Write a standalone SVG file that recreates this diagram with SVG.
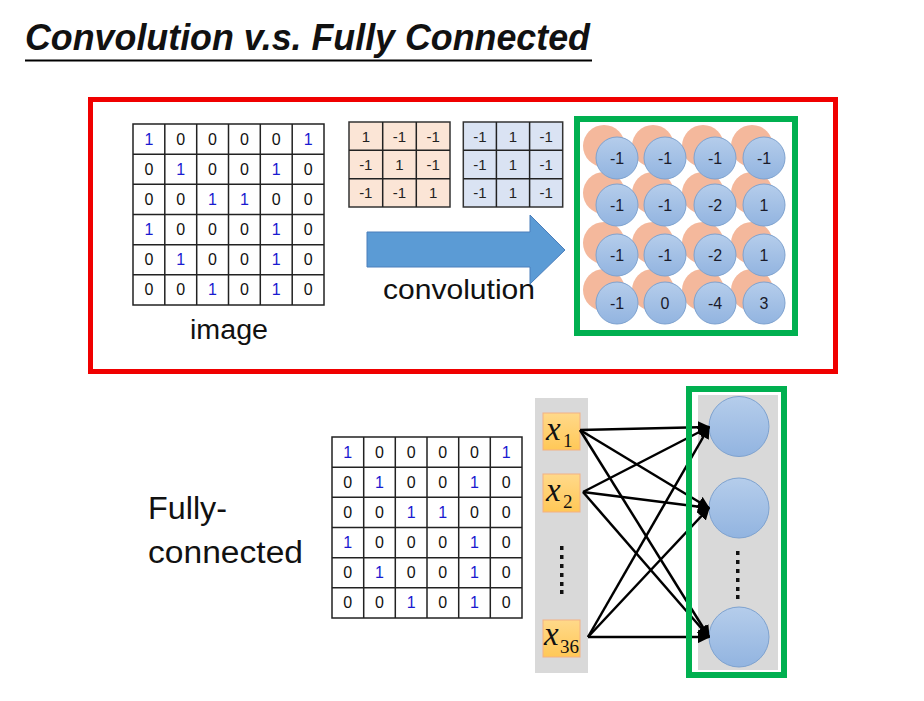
<svg xmlns="http://www.w3.org/2000/svg" width="924" height="701" viewBox="0 0 924 701">
<defs>
<style>
.t{font-family:"Liberation Sans",Arial,sans-serif;fill:#111}
.g{font-size:16px;text-anchor:middle}
.b{fill:#1a1ad0}
.f{font-size:15px;text-anchor:middle;fill:#222}
.c{font-size:16px;text-anchor:middle;fill:#1a1a2a}
.grid{fill:#fff;stroke:#222;stroke-width:1.5}
.gl{stroke:#222;stroke-width:1.5;fill:none}
.oc{fill:#F4B89C}
.bc{fill:url(#bg);stroke:#7EA2CF;stroke-width:1}
.xb{fill:url(#yg);stroke:#F4B183;stroke-width:1}
.xt{font-family:"Liberation Serif","Times New Roman",serif;font-style:italic;font-size:33px;fill:#111}
.xs{font-family:"Liberation Serif","Times New Roman",serif;font-size:19px;fill:#111}
.ln{stroke:#000;stroke-width:2.5;fill:none;marker-end:url(#ah)}
</style>
<linearGradient id="bg" x1="0" y1="0" x2="0" y2="1"><stop offset="0" stop-color="#B5CDEB"/><stop offset="1" stop-color="#92B4E0"/></linearGradient>
<linearGradient id="yg" x1="0" y1="0" x2="0" y2="1"><stop offset="0" stop-color="#FFD98A"/><stop offset="1" stop-color="#FFC857"/></linearGradient>
<marker id="ah" viewBox="0 0 10 10" refX="9" refY="5" markerWidth="5" markerHeight="5" orient="auto" markerUnits="strokeWidth"><path d="M0,0 L10,5 L0,10 z" fill="#000"/></marker>
</defs>
<rect width="924" height="701" fill="#fff"/>

<g id="title">
<text class="t" x="25" y="50" font-size="37" font-weight="bold" font-style="italic" textLength="565" lengthAdjust="spacingAndGlyphs">Convolution v.s. Fully Connected</text>
<line x1="25" y1="60.5" x2="592" y2="60.5" stroke="#000" stroke-width="2"/>
</g>

<g id="conv-frame"><rect x="90.5" y="99.5" width="745" height="272" fill="none" stroke="#F00000" stroke-width="5"/></g>

<g id="image-grid">
<rect class="grid" x="133" y="124" width="191" height="181"/>
<path class="gl" d="M164.8,124V305M196.7,124V305M228.5,124V305M260.3,124V305M292.2,124V305M133,154.2H324M133,184.3H324M133,214.5H324M133,244.7H324M133,274.8H324"/>
<g class="t g">
<text x="148.9" y="144.6" class="b">1</text><text x="180.7" y="144.6">0</text><text x="212.5" y="144.6">0</text><text x="244.4" y="144.6">0</text><text x="276.2" y="144.6">0</text><text x="308.1" y="144.6" class="b">1</text>
<text x="148.9" y="174.8">0</text><text x="180.7" y="174.8" class="b">1</text><text x="212.5" y="174.8">0</text><text x="244.4" y="174.8">0</text><text x="276.2" y="174.8" class="b">1</text><text x="308.1" y="174.8">0</text>
<text x="148.9" y="204.9">0</text><text x="180.7" y="204.9">0</text><text x="212.5" y="204.9" class="b">1</text><text x="244.4" y="204.9" class="b">1</text><text x="276.2" y="204.9">0</text><text x="308.1" y="204.9">0</text>
<text x="148.9" y="235.1" class="b">1</text><text x="180.7" y="235.1">0</text><text x="212.5" y="235.1">0</text><text x="244.4" y="235.1">0</text><text x="276.2" y="235.1" class="b">1</text><text x="308.1" y="235.1">0</text>
<text x="148.9" y="265.3">0</text><text x="180.7" y="265.3" class="b">1</text><text x="212.5" y="265.3">0</text><text x="244.4" y="265.3">0</text><text x="276.2" y="265.3" class="b">1</text><text x="308.1" y="265.3">0</text>
<text x="148.9" y="295.4">0</text><text x="180.7" y="295.4">0</text><text x="212.5" y="295.4" class="b">1</text><text x="244.4" y="295.4">0</text><text x="276.2" y="295.4" class="b">1</text><text x="308.1" y="295.4">0</text>
</g>
<text class="t" x="190" y="339" font-size="27" textLength="78" lengthAdjust="spacingAndGlyphs">image</text>
</g>

<g id="filter1">
<rect x="349" y="122" width="101" height="85" fill="#FBE5D6" stroke="#333" stroke-width="1.5"/>
<path class="gl" d="M382.7,122V207M416.3,122V207M349,150.3H450M349,178.7H450"/>
<g class="t f">
<text x="365.8" y="141.5">1</text><text x="399.5" y="141.5">-1</text><text x="433.2" y="141.5">-1</text>
<text x="365.8" y="169.8">-1</text><text x="399.5" y="169.8">1</text><text x="433.2" y="169.8">-1</text>
<text x="365.8" y="198.1">-1</text><text x="399.5" y="198.1">-1</text><text x="433.2" y="198.1">1</text>
</g>
</g>

<g id="filter2">
<rect x="463.3" y="122" width="99.4" height="85" fill="#DAE3F3" stroke="#333" stroke-width="1.5"/>
<path class="gl" d="M496.4,122V207M529.6,122V207M463.3,150.3H562.7M463.3,178.7H562.7"/>
<g class="t f">
<text x="479.9" y="141.5">-1</text><text x="513" y="141.5">1</text><text x="546.1" y="141.5">-1</text>
<text x="479.9" y="169.8">-1</text><text x="513" y="169.8">1</text><text x="546.1" y="169.8">-1</text>
<text x="479.9" y="198.1">-1</text><text x="513" y="198.1">1</text><text x="546.1" y="198.1">-1</text>
</g>
</g>

<g id="conv-arrow">
<path d="M367,232H530V215L565,250L530,284V267H367Z" fill="#5B9BD5" stroke="#4A7EBB" stroke-width="1"/>
<text class="t" x="383" y="299" font-size="28" textLength="152" lengthAdjust="spacingAndGlyphs">convolution</text>
</g>

<g id="feature-map">
<g class="oc">
<circle cx="604" cy="146" r="21"/><circle cx="653" cy="146" r="21"/><circle cx="703" cy="146" r="21"/><circle cx="752" cy="146" r="21"/>
<circle cx="604" cy="193" r="21"/><circle cx="653" cy="193" r="21"/><circle cx="703" cy="193" r="21"/><circle cx="752" cy="193" r="21"/>
<circle cx="604" cy="243" r="21"/><circle cx="653" cy="243" r="21"/><circle cx="703" cy="243" r="21"/><circle cx="752" cy="243" r="21"/>
<circle cx="604" cy="290" r="21"/><circle cx="653" cy="290" r="21"/><circle cx="703" cy="290" r="21"/><circle cx="752" cy="290" r="21"/>
</g>
<g class="bc">
<circle cx="617" cy="158" r="21"/><circle cx="665" cy="158" r="21"/><circle cx="715" cy="158" r="21"/><circle cx="764" cy="158" r="21"/>
<circle cx="617" cy="205" r="21"/><circle cx="665" cy="205" r="21"/><circle cx="715" cy="205" r="21"/><circle cx="764" cy="205" r="21"/>
<circle cx="617" cy="255" r="21"/><circle cx="665" cy="255" r="21"/><circle cx="715" cy="255" r="21"/><circle cx="764" cy="255" r="21"/>
<circle cx="617" cy="303" r="21"/><circle cx="665" cy="303" r="21"/><circle cx="715" cy="303" r="21"/><circle cx="764" cy="303" r="21"/>
</g>
<g class="t c">
<text x="617" y="164">-1</text><text x="665" y="164">-1</text><text x="715" y="164">-1</text><text x="764" y="164">-1</text>
<text x="617" y="211">-1</text><text x="665" y="211">-1</text><text x="715" y="211">-2</text><text x="764" y="211">1</text>
<text x="617" y="261">-1</text><text x="665" y="261">-1</text><text x="715" y="261">-2</text><text x="764" y="261">1</text>
<text x="617" y="309">-1</text><text x="665" y="309">0</text><text x="715" y="309">-4</text><text x="764" y="309">3</text>
</g>
<rect x="577" y="119" width="218" height="214" fill="none" stroke="#00B050" stroke-width="6"/>
</g>

<g id="fc-label">
<text class="t" x="148" y="519" font-size="31" textLength="79" lengthAdjust="spacingAndGlyphs">Fully-</text>
<text class="t" x="148" y="563" font-size="31" textLength="155" lengthAdjust="spacingAndGlyphs">connected</text>
</g>

<g id="fc-grid">
<rect class="grid" x="332" y="437" width="190" height="181"/>
<path class="gl" d="M363.7,437V618M395.3,437V618M427,437V618M458.7,437V618M490.3,437V618M332,467.2H522M332,497.3H522M332,527.5H522M332,557.7H522M332,587.8H522"/>
<g class="t g">
<text x="347.8" y="457.6" class="b">1</text><text x="379.5" y="457.6">0</text><text x="411.2" y="457.6">0</text><text x="442.8" y="457.6">0</text><text x="474.5" y="457.6">0</text><text x="506.2" y="457.6" class="b">1</text>
<text x="347.8" y="487.8">0</text><text x="379.5" y="487.8" class="b">1</text><text x="411.2" y="487.8">0</text><text x="442.8" y="487.8">0</text><text x="474.5" y="487.8" class="b">1</text><text x="506.2" y="487.8">0</text>
<text x="347.8" y="517.9">0</text><text x="379.5" y="517.9">0</text><text x="411.2" y="517.9" class="b">1</text><text x="442.8" y="517.9" class="b">1</text><text x="474.5" y="517.9">0</text><text x="506.2" y="517.9">0</text>
<text x="347.8" y="548.1" class="b">1</text><text x="379.5" y="548.1">0</text><text x="411.2" y="548.1">0</text><text x="442.8" y="548.1">0</text><text x="474.5" y="548.1" class="b">1</text><text x="506.2" y="548.1">0</text>
<text x="347.8" y="578.3">0</text><text x="379.5" y="578.3" class="b">1</text><text x="411.2" y="578.3">0</text><text x="442.8" y="578.3">0</text><text x="474.5" y="578.3" class="b">1</text><text x="506.2" y="578.3">0</text>
<text x="347.8" y="608.4">0</text><text x="379.5" y="608.4">0</text><text x="411.2" y="608.4" class="b">1</text><text x="442.8" y="608.4">0</text><text x="474.5" y="608.4" class="b">1</text><text x="506.2" y="608.4">0</text>
</g>
</g>

<g id="input-column">
<rect x="535" y="398" width="53" height="275" fill="#D9D9D9"/>
<g fill="#111"><rect x="560" y="546" width="3.5" height="4"/><rect x="560" y="555" width="3.5" height="4"/><rect x="560" y="564" width="3.5" height="4"/><rect x="560" y="573" width="3.5" height="4"/><rect x="560" y="582" width="3.5" height="4"/><rect x="560" y="590" width="3.5" height="4"/></g>
</g>
<g id="x1"><rect class="xb" x="543" y="413" width="37" height="37"/><text class="xt" x="546" y="440">x</text><text class="xs" x="563" y="447">1</text></g>
<g id="x2"><rect class="xb" x="543" y="474" width="37" height="38"/><text class="xt" x="546" y="501">x</text><text class="xs" x="563" y="508">2</text></g>
<g id="x36"><rect class="xb" x="543" y="620" width="37" height="37"/><text class="xt" x="544" y="645">x</text><text class="xs" x="560" y="653">36</text></g>

<g id="output-column">
<rect x="698" y="395" width="80" height="275" fill="#D9D9D9"/>
<g fill="#111"><rect x="736" y="551" width="3.5" height="4"/><rect x="736" y="560" width="3.5" height="4"/><rect x="736" y="569" width="3.5" height="4"/><rect x="736" y="578" width="3.5" height="4"/><rect x="736" y="587" width="3.5" height="4"/><rect x="736" y="595" width="3.5" height="4"/></g>
</g>
<g id="y1"><circle class="bc" cx="739" cy="426.5" r="30"/></g>
<g id="y2"><circle class="bc" cx="739" cy="508" r="30"/></g>
<g id="y3"><circle class="bc" cx="739" cy="637" r="30"/></g>

<g id="connectors">
<path class="ln" d="M580,430L709,427"/>
<path class="ln" d="M580,430L709,508"/>
<path class="ln" d="M580,430L709,637"/>
<path class="ln" d="M583,492L709,427"/>
<path class="ln" d="M583,492L709,508"/>
<path class="ln" d="M583,492L709,637"/>
<path class="ln" d="M588,637L709,427"/>
<path class="ln" d="M588,637L709,508"/>
<path class="ln" d="M588,637L709,637"/>
</g>

<g id="fc-frame"><rect x="689" y="389" width="95" height="286" fill="none" stroke="#00B050" stroke-width="6"/></g>
</svg>
